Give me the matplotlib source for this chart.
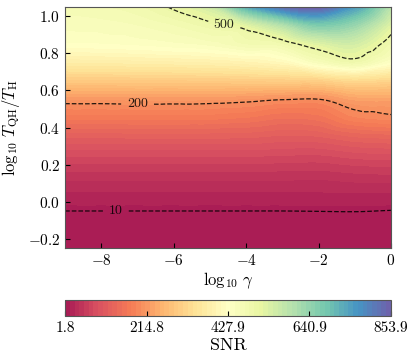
import numpy as np
import matplotlib
matplotlib.use("Agg")
import matplotlib.pyplot as plt
import matplotlib.tri as mtri
from matplotlib.colors import ListedColormap

plt.rcParams['font.family'] = 'serif'
plt.rcParams['font.serif'] = ['cmr10', 'DejaVu Serif']
plt.rcParams['mathtext.fontset'] = 'cm'
plt.rcParams['axes.formatter.use_mathtext'] = True

# grid
log_gamma = [-9, -8, -7, -6, -5, -4, -3, -2, -1, 0]
log_T = [-0.25, -0.15, -0.05, 0.05, 0.15, 0.25, 0.35, 0.45, 0.55, 0.65, 0.75, 0.85, 0.95, 1.05]

snr_rows = [
    [1.8, 1.8, 1.9, 1.9, 1.9, 1.9, 1.9, 2.0, 2.0, 1.9],
    [5.0, 5.0, 5.0, 5.0, 5.0, 5.0, 5.0, 5.1, 5.2, 4.8],
    [10.0, 10.0, 10.0, 10.0, 10.0, 10.0, 10.0, 10.2, 10.4, 9.6],
    [26, 26, 26, 26, 26, 26, 26, 26, 27, 27],
    [48, 48, 48, 48, 48, 48, 47, 46, 50, 52],
    [78, 78, 78, 78, 78, 78, 76, 75, 82, 85],
    [115, 115, 116, 116, 116, 115, 110, 112, 125, 130],
    [165, 165, 166, 166, 165, 160, 150, 155, 183, 192],
    [212, 212, 213, 213, 212, 208, 200, 198, 225, 228],
    [290, 290, 292, 292, 294, 296, 298, 300, 320, 310],
    [370, 372, 375, 378, 382, 390, 405, 450, 480, 430],
    [430, 432, 436, 442, 450, 470, 480, 525, 545, 480],
    [450, 452, 458, 470, 490, 520, 590, 665, 630, 525],
    [465, 470, 480, 505, 550, 720, 825, 853.9, 750, 585],
]

contour_levels = [10, 200, 500]
label_spots = [(-7.6, -0.05), (-7.0, 0.52), (-4.6, 0.96)]

snr = np.array(snr_rows)
X, Y = np.meshgrid(log_gamma, log_T)
vmin, vmax = snr.min(), snr.max()

# slightly washed Spectral, as in the original
base = plt.get_cmap('Spectral')(np.linspace(0, 1, 256))
base[:, :3] = 0.9 * base[:, :3] + 0.1
cmap = ListedColormap(base)

# smooth the read grid with matplotlib's cubic tri interpolator
tri = mtri.Triangulation(X.ravel(), Y.ravel() * 7)
refiner = mtri.UniformTriRefiner(tri)
interp = mtri.CubicTriInterpolator(tri, snr.ravel(), kind='geom')
tri_f, z_f = refiner.refine_field(snr.ravel(), triinterpolator=interp, subdiv=4)
tri_f = mtri.Triangulation(tri_f.x, tri_f.y / 7)
z_f = np.clip(z_f, vmin, vmax)

fig = plt.figure(figsize=(4.15, 3.59), dpi=100)
ax = fig.add_axes([0.157, 0.309, 0.785, 0.6715])
cax = fig.add_axes([0.157, 0.1198, 0.785, 0.0446])

cf = ax.tricontourf(tri_f, z_f, levels=np.linspace(vmin, vmax, 70), cmap=cmap, antialiased=False)
cs = ax.tricontour(tri_f, z_f, levels=contour_levels, colors='k', linestyles='--', linewidths=0.9, alpha=0.85)
labels = ax.clabel(cs, fmt='%d', fontsize=10, inline=True, inline_spacing=6, manual=label_spots)
for t in labels:
    t.set_rotation(0)

ax.set_xlim(-9, 0)
ax.set_ylim(-0.25, 1.05)
ax.set_xticks([-8, -6, -4, -2, 0])
ax.set_yticks([-0.2, 0.0, 0.2, 0.4, 0.6, 0.8, 1.0])
ax.tick_params(direction='in', labelsize=11)
ax.set_xlabel(r'$\log_{10}\,\gamma$', fontsize=12, labelpad=2)
ax.set_ylabel(r'$\log_{10}\,T_{\rm QH}/T_{\rm H}$', fontsize=12)
for s in ax.spines.values():
    s.set_color('#555555')

cb = fig.colorbar(cf, cax=cax, orientation='horizontal')
cb.set_ticks(np.linspace(vmin, vmax, 5))
cb.set_ticklabels(['%.1f' % t for t in np.linspace(vmin, vmax, 5)])
cb.ax.tick_params(direction='in', labelsize=11)
cb.set_label('SNR', fontsize=13, labelpad=2)
cb.outline.set_edgecolor('#555555')

fig.savefig('out.png', dpi=100)
